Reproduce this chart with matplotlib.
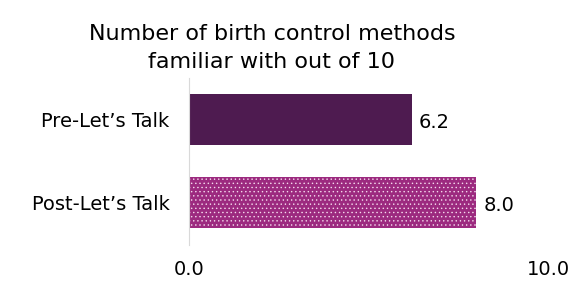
import matplotlib
matplotlib.use('Agg')
from matplotlib import pyplot as plt

# Данные
categories = ["Pre-Let\u2019s Talk", "Post-Let\u2019s Talk"]
values = [6.2, 8.0]
colors = ['#4E1B50', '#9C2A7F']
hatches = ['', '....']
x_ticks = [0, 10]
x_tick_labels = ['0.0', '10.0']

plt.rcParams['font.family'] = ['DejaVu Sans']
plt.rcParams['hatch.linewidth'] = 0.5

fig = plt.figure(figsize=(5.81, 2.86), dpi=100)
ax = fig.add_axes([189 / 581, 1 - 245 / 286, (548 - 189) / 581, (245 - 78) / 286])

for i, (v, c, h) in enumerate(zip(values, colors, hatches)):
    ax.barh(i, v, height=0.62, color=c, hatch=h,
            edgecolor='#F3D9EC' if h else c, linewidth=0)
    ax.text(v + 0.2, i + 0.04, f'{v:.1f}', va='center', ha='left', fontsize=14)

ax.set_xlim(0, 10)
ax.set_ylim(1.51, -0.5)
ax.set_yticks(range(len(categories)))
ax.set_yticklabels(categories, fontsize=14)
ax.set_xticks(x_ticks)
ax.set_xticklabels(x_tick_labels, fontsize=14)
ax.tick_params(axis='both', length=0)
ax.tick_params(axis='y', pad=14)
ax.tick_params(axis='x', pad=11)

for s in ['top', 'right', 'bottom']:
    ax.spines[s].set_visible(False)
ax.spines['left'].set_color('#D9D9D9')
ax.spines['left'].set_linewidth(0.8)

fig.suptitle('Number of birth control methods\nfamiliar with out of 10',
             fontsize=16, x=0.468, y=0.915, va='top', linespacing=1.45)

fig.savefig('out.png', dpi=100)
